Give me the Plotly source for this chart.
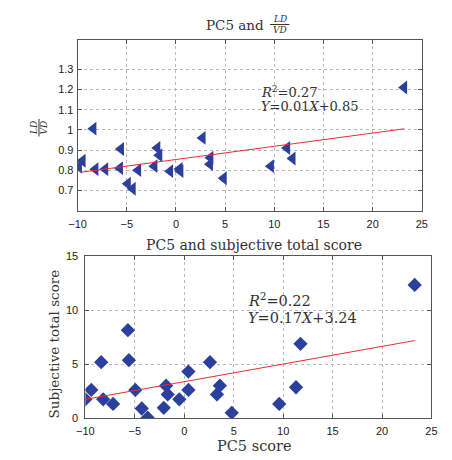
import plotly.graph_objects as go

# ---- data: top panel (PC5 vs LD/VD) ----
pc5_top = [-9.87, -9.5, -8.4, -8.2, -7.2, -5.7, -5.6, -4.9, -4.4, -3.85, -2.2, -1.9,
           -1.7, -0.6, 0.36, 0.45, 2.7, 3.5, 3.45, 4.85, 9.65, 11.3, 11.85, 23.2]
ldvd = [0.817, 0.847, 1.006, 0.805, 0.805, 0.81, 0.905, 0.733, 0.708, 0.80, 0.82, 0.91,
        0.874, 0.795, 0.806, 0.795, 0.96, 0.862, 0.83, 0.76, 0.82, 0.91, 0.858, 1.21]
fit_top_x = [-9.6, 23.2]
fit_top_y = [0.79, 1.005]

# ---- data: bottom panel (PC5 vs subjective total score) ----
pc5_bot = [-10.0, -9.4, -8.4, -8.2, -7.2, -5.7, -5.6, -4.95, -4.3, -3.7, -2.07, -1.84,
           -1.67, -0.5, 0.42, 0.42, 2.6, 3.3, 3.6, 4.8, 9.6, 11.3, 11.75, 23.3]
score = [1.73, 2.6, 5.18, 1.73, 1.3, 8.15, 5.36, 2.6, 0.88, 0.03, 0.94, 3.0,
         2.18, 1.73, 4.3, 2.6, 5.18, 2.18, 3.0, 0.48, 1.3, 2.85, 6.88, 12.34]
fit_bot_x = [-10.0, 23.3]
fit_bot_y = [1.73, 7.18]

x_ticks = [-10, -5, 0, 5, 10, 15, 20, 25]
y_ticks_top = [0.7, 0.8, 0.9, 1.0, 1.1, 1.2, 1.3]
y_ticks_bot = [0, 5, 10, 15]

W, H = 452, 460
MARK = "#2b3f9c"
LINE = "rgb(235,45,45)"
SERIF = "DejaVu Serif, Liberation Serif, serif"
SANS = "Liberation Sans, Arial, sans-serif"
TXT = "#333"


def px(x):
    return x / W


def py(y):
    return 1 - y / H


fig = go.Figure()
fig.add_trace(go.Scatter(x=pc5_top, y=ldvd, mode="markers", xaxis="x", yaxis="y",
                         marker=dict(symbol="triangle-left", size=12, color=MARK),
                         showlegend=False))
fig.add_trace(go.Scatter(x=fit_top_x, y=fit_top_y, mode="lines", xaxis="x", yaxis="y",
                         line=dict(color=LINE, width=1), showlegend=False))
fig.add_trace(go.Scatter(x=pc5_bot, y=score, mode="markers", xaxis="x2", yaxis="y2",
                         marker=dict(symbol="diamond", size=11, color=MARK),
                         showlegend=False))
fig.add_trace(go.Scatter(x=fit_bot_x, y=fit_bot_y, mode="lines", xaxis="x2", yaxis="y2",
                         line=dict(color=LINE, width=1), showlegend=False))

axis_common = dict(showline=True, mirror="ticks", linecolor="#555", linewidth=1,
                   ticks="inside", ticklen=4, tickcolor="#555",
                   showgrid=True, gridcolor="#b8b8b8", griddash="dot", gridwidth=1,
                   zeroline=False, tickfont=dict(family=SANS, size=11, color="#222"))

fig.update_layout(
    width=W, height=H, margin=dict(l=0, r=0, t=0, b=0),
    paper_bgcolor="white", plot_bgcolor="white",
    xaxis=dict(domain=[px(71), px(427)], anchor="y", range=[-10, 25], tickvals=x_ticks,
               ticklabelstandoff=3, **axis_common),
    yaxis=dict(domain=[py(210), py(35)], anchor="x", range=[0.6, 1.445],
               tickvals=y_ticks_top, ticklabelstandoff=1, **axis_common),
    xaxis2=dict(domain=[px(79), px(437)], anchor="y2", range=[-10, 25], tickvals=x_ticks,
                ticklabelstandoff=3, **axis_common),
    yaxis2=dict(domain=[py(423), py(257)], anchor="x2", range=[0, 15],
                tickvals=y_ticks_bot, ticklabelstandoff=4, **axis_common),
)


def pa(text, x, y, size, angle=0):
    return dict(text=text, x=px(x), y=py(y), xref="paper", yref="paper",
                xanchor="center", yanchor="middle", textangle=angle,
                showarrow=False, font=dict(family=SERIF, size=size, color=TXT))


def da(text, x, y, xr, yr, size):
    return dict(text=text, x=x, y=y, xref=xr, yref=yr, xanchor="left", yanchor="middle",
                showarrow=False, font=dict(family=SERIF, size=size, color=TXT))


ann = [
    # top title with fraction
    pa("PC5 and", 234, 19, 13.5),
    pa("<i>LD</i>", 280, 13, 9),
    pa("<i>VD</i>", 280, 25, 9),
    # top y-axis title (rotated fraction)
    pa("<i>LD</i>", 26, 125, 9, -90),
    pa("<i>VD</i>", 36, 125, 9, -90),
    # top stats
    da("<i>R</i><sup>2</sup>=0.27", 8.4, 1.19, "x", "y", 13),
    da("<i>Y</i>=0.01<i>X</i>+0.85", 8.4, 1.115, "x", "y", 13),
    # bottom title and axis titles
    pa("PC5 and subjective total score", 253, 245, 14),
    pa("Subjective total score", 46, 347, 13.5, -90),
    pa("PC5 score", 254, 451.5, 14.5),
    # bottom stats
    da("<i>R</i><sup>2</sup>=0.22", 6.2, 10.95, "x2", "y2", 14.5),
    da("<i>Y</i>=0.17<i>X</i>+3.24", 6.2, 9.25, "x2", "y2", 14.5),
]
fig.update_layout(annotations=ann)

# fraction bars
fig.add_shape(type="line", xref="paper", yref="paper", x0=px(270), x1=px(290),
              y0=py(19), y1=py(19), line=dict(color=TXT, width=1))
fig.add_shape(type="line", xref="paper", yref="paper", x0=px(31), x1=px(31),
              y0=py(116), y1=py(134), line=dict(color=TXT, width=1))

fig.write_html("out.html", config={"displayModeBar": False},
               post_script="document.body.style.margin='0';document.body.style.padding='0';")
